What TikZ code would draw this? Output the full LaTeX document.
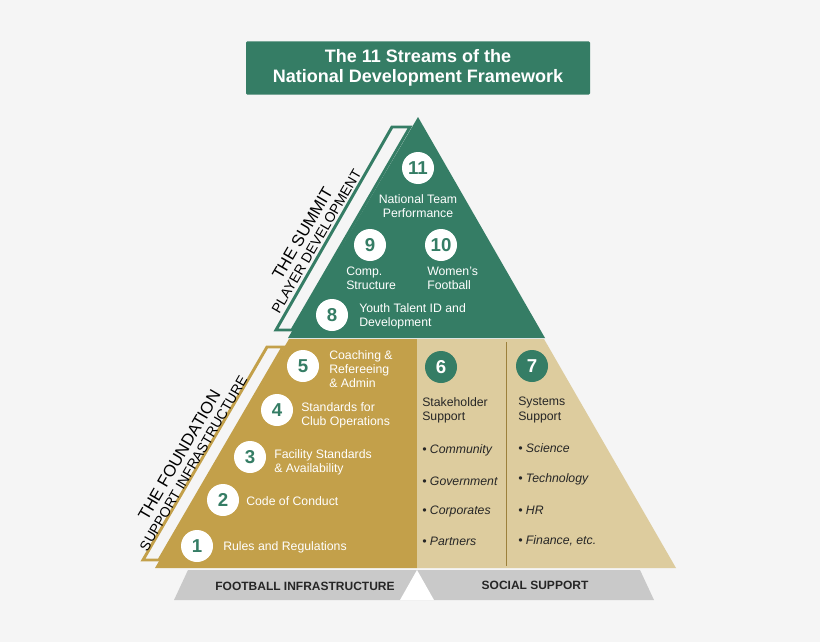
\documentclass[tikz,border=0pt]{standalone}
\usepackage{fontspec}
\setmainfont{Liberation Sans}
\begin{document}
\definecolor{grn}{HTML}{357D65}
\definecolor{gld}{HTML}{C3A04A}
\definecolor{lgt}{HTML}{DDCC9E}
\definecolor{gry}{HTML}{C9C9C9}
\definecolor{bg}{HTML}{F5F5F5}
\begin{tikzpicture}[x=0.75pt,y=-0.75pt,
  num/.style={circle,fill=white,text=grn,minimum size=24pt,inner sep=0pt,font=\fontsize{14}{14}\selectfont\bfseries},
  gnum/.style={circle,fill=grn,text=white,minimum size=24pt,inner sep=0pt,font=\fontsize{14}{14}\selectfont\bfseries},
  wt/.style={text=white,align=left,anchor=west,inner sep=0pt,font=\fontsize{9.2}{10.6}\selectfont},
  dt/.style={text=black!85,align=left,anchor=west,inner sep=0pt,font=\fontsize{9.2}{10.6}\selectfont},
  bl/.style={dt,font=\fontsize{9.2}{10.6}\selectfont\itshape},
  side/.style={align=center,inner sep=0pt,font=\fontsize{10.5}{10}\selectfont,rotate=59.8}]
\fill[bg] (0,0) rectangle (820,642);
\useasboundingbox (0,0) rectangle (820,642);
% title
\node[fill=grn,text=white,minimum width=258pt,minimum height=40pt,rounded corners=1pt,align=center,font=\fontsize{13.5}{15.5}\selectfont\bfseries] (title) at (418,68) {The 11 Streams of the\\National Development Framework};
% gray base
\fill[gry] (188,570) -- (640,570) -- (654,600) -- (174,600) -- cycle;
\fill[white] (417,570) -- (434,600) -- (400,600) -- cycle;
\node[font=\fontsize{9}{10}\selectfont\bfseries,text=black!85] (fi) at (305,586) {FOOTBALL INFRASTRUCTURE};
\node[font=\fontsize{9}{10}\selectfont\bfseries,text=black!85] (ss) at (535,585) {SOCIAL SUPPORT};
% foundation
\fill[gld] (289,339) -- (417,339) -- (417,568) -- (155,568) -- cycle;
\fill[lgt] (417,339) -- (544,339) -- (676,568) -- (417,568) -- cycle;
\draw[gld!80!black,line width=0.6pt] (506,342) -- (506,566);
% summit
\fill[grn] (418,117) -- (545,338) -- (288,338) -- cycle;
% brackets
\draw[grn,line width=2.2pt,line join=miter] (392,127) -- (410,127) -- (292,330) -- (276,330) -- cycle;
\draw[gld,line width=2.2pt,line join=miter] (267,347) -- (283,347) -- (159,560) -- (143,560) -- cycle;
\node[side] (sum) at (309,237) {{\fontsize{12.5}{12}\selectfont THE SUMMIT}\\[1.5pt]PLAYER DEVELOPMENT};
\node[side] (fnd) at (186,459) {{\fontsize{12.5}{12}\selectfont THE FOUNDATION}\\[1.5pt]SUPPORT INFRASTRUCTURE};
% summit items
\node[num] (n11) at (418,168) {11};
\node[text=white,align=center,inner sep=0pt,font=\fontsize{9.2}{10.6}\selectfont] (t11) at (418,206) {National Team\\Performance};
\node[num] (n9) at (370,245) {9};
\node[wt] (t9) at (346,278) {Comp.\\Structure};
\node[num] (n10) at (441,245) {10};
\node[wt] (t10) at (427,278) {Women’s\\Football};
\node[num] (n8) at (332,315) {8};
\node[wt] (t8) at (359,316) {Youth Talent ID and\\Development};
% foundation items
\node[num] (n5) at (303,366) {5};
\node[wt] (t5) at (329,369) {Coaching \&\\Refereeing\\\& Admin};
\node[num] (n4) at (277,410) {4};
\node[wt] (t4) at (301,415) {Standards for\\Club Operations};
\node[num] (n3) at (250,457) {3};
\node[wt] (t3) at (274,462) {Facility Standards\\\& Availability};
\node[num] (n2) at (223,500) {2};
\node[wt] (t2) at (246,501) {Code of Conduct};
\node[num] (n1) at (197,546) {1};
\node[wt] (t1) at (223,547) {Rules and Regulations};
% support columns
\node[gnum] (n6) at (441,367) {6};
\node[dt] (t6) at (422,410) {Stakeholder\\Support};
\node[bl] (b61) at (422,450) {• Community};
\node[bl] (b62) at (422,481) {• Government};
\node[bl] (b63) at (422,511) {• Corporates};
\node[bl] (b64) at (422,541) {• Partners};
\node[gnum] (n7) at (532,366) {7};
\node[dt] (t7) at (518,410) {Systems\\Support};
\node[bl] (b71) at (518,448) {• Science};
\node[bl] (b72) at (518,479) {• Technology};
\node[bl] (b73) at (518,510) {• HR};
\node[bl] (b74) at (518,541) {• Finance, etc.};
\end{tikzpicture}
\end{document}
